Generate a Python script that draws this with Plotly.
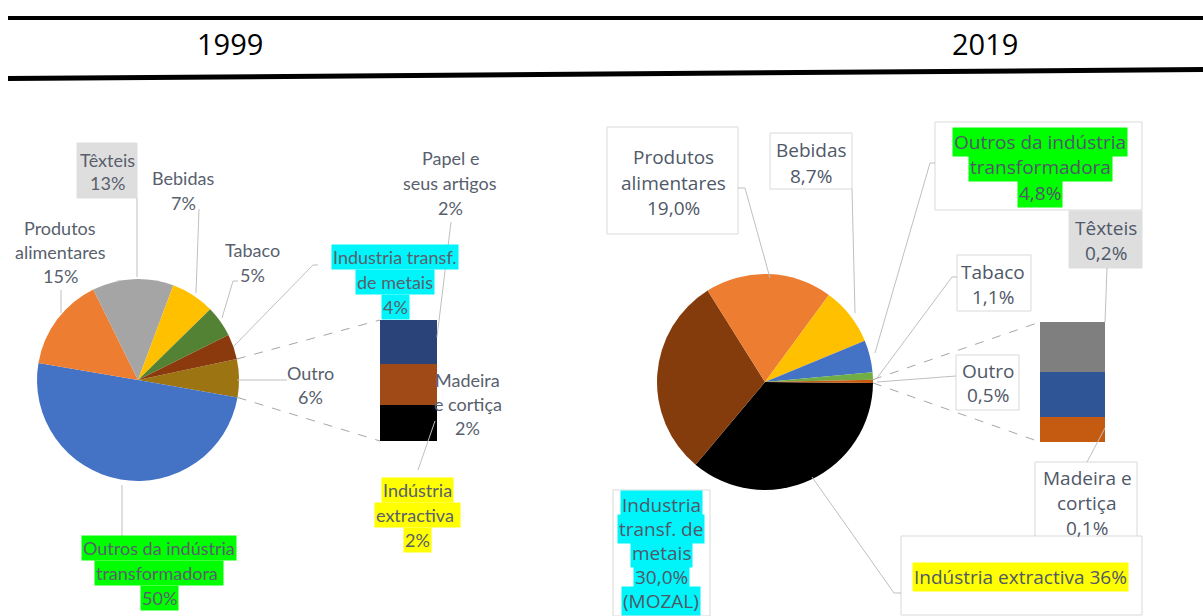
import math
import plotly.graph_objects as go

W, H = 1203, 616

# ---------------- data ----------------
# 1999 main pie (clockwise, first slice = composite "Outro")
pie99_labels = ["Outro", "Outros da indústria transformadora", "Produtos alimentares",
                "Têxteis", "Bebidas", "Tabaco", "Industria transf. de metais"]
pie99_main = [50, 15, 13, 7, 5, 4]
# 1999 bar (bottom -> top), composes the "Outro" slice
bar99_labels = ["Indústria extractiva", "Madeira e cortiça", "Papel e seus artigos"]
bar99_values = [1.8, 2.1, 2.2]
pie99_values = [sum(bar99_values)] + pie99_main

# 2019 main pie (clockwise, last slice = composite "Outro")
pie19_labels = ["Indústria extractiva", "Industria transf. de metais (MOZAL)",
                "Produtos alimentares", "Bebidas", "Outros da indústria transformadora",
                "Tabaco", "Outro"]
pie19_main = [36, 30, 19, 8.7, 4.8, 1.1]
# 2019 bar (bottom -> top), composes the "Outro" slice
bar19_labels = ["Madeira e cortiça", "Papel e seus artigos", "Têxteis"]
bar19_values = [0.1, 0.18, 0.2]
pie19_values = pie19_main + [sum(bar19_values)]

# ---------------- styles ----------------
pie99_colors = ["#9c7412", "#4472c4", "#ed7d31", "#a5a5a5", "#ffc000", "#548235", "#8a3a0c"]
bar99_colors = ["#000000", "#a04a17", "#2a4479"]
pie19_colors = ["#000000", "#843c0c", "#ed7d31", "#ffc000", "#4472c4", "#70ad47", "#c55a11"]
bar19_colors = ["#c55a11", "#2f5597", "#7f7f7f"]

PIE99 = dict(cx=138, cy=380, r=101, rot=78)
PIE19 = dict(cx=765, cy=382, r=108, rot=90.5)
BAR99 = dict(x0=380, x1=437, y0=320, y1=441)
BAR19 = dict(x0=1040, x1=1105, y0=322, y1=442)


def X(px):
    return px / W


def Y(py):
    return 1 - py / H


fig = go.Figure()

for p, labels, values, colors in [(PIE99, pie99_labels, pie99_values, pie99_colors),
                                  (PIE19, pie19_labels, pie19_values, pie19_colors)]:
    fig.add_trace(go.Pie(
        labels=labels, values=values, sort=False, direction="clockwise",
        rotation=p["rot"], textinfo="none", showlegend=False,
        marker=dict(colors=colors, line=dict(width=0)),
        domain=dict(x=[X(p["cx"] - p["r"]), X(p["cx"] + p["r"])],
                    y=[Y(p["cy"] + p["r"]), Y(p["cy"] - p["r"])]),
    ))

for k, (b, labels, values, colors) in enumerate([(BAR99, bar99_labels, bar99_values, bar99_colors),
                                                (BAR19, bar19_labels, bar19_values, bar19_colors)]):
    xa = "x" if k == 0 else "x2"
    ya = "y" if k == 0 else "y2"
    for lab, v, c in zip(labels, values, colors):
        fig.add_trace(go.Bar(x=[0], y=[v], name=lab, width=1, marker=dict(color=c, line=dict(width=0)),
                             xaxis=xa, yaxis=ya, showlegend=False))
    ax = dict(domain=[X(b["x0"]), X(b["x1"])], range=[-0.5, 0.5], visible=False, fixedrange=True)
    ay = dict(domain=[Y(b["y1"]), Y(b["y0"])], range=[0, sum(values)], visible=False, fixedrange=True)
    if k == 0:
        fig.update_layout(xaxis=ax, yaxis=ay)
    else:
        ax["anchor"] = "y2"
        ay["anchor"] = "x2"
        fig.update_layout(xaxis2=ax, yaxis2=ay)

shapes = []


def line(x0, y0, x1, y1, color="#bfbfbf", width=1, dash=None):
    d = dict(type="line", xref="paper", yref="paper", x0=X(x0), y0=Y(y0), x1=X(x1), y1=Y(y1),
             line=dict(color=color, width=width))
    if dash:
        d["line"]["dash"] = dash
    shapes.append(d)


def poly(pts, color="#bfbfbf"):
    for (a, b), (c, d) in zip(pts[:-1], pts[1:]):
        line(a, b, c, d, color=color)


def rect(x0, y0, x1, y1, fill="white", border="#d9d9d9"):
    shapes.append(dict(type="rect", xref="paper", yref="paper", x0=X(x0), y0=Y(y0), x1=X(x1), y1=Y(y1),
                       fillcolor=fill, line=dict(color=border, width=1), layer="below"))


def pie_point(p, values, frac_index):
    tot = sum(values)
    a = math.radians(p["rot"] + 360 * frac_index / tot)
    return p["cx"] + p["r"] * math.sin(a), p["cy"] - p["r"] * math.cos(a)


# header rules
line(8, 18, W, 18, color="black", width=4)
line(8, 78.5, W, 69.5, color="black", width=5)

# dashed pie-to-bar connectors (computed from data)
comp99 = pie99_values[0]
s = pie_point(PIE99, pie99_values, 0)
e = pie_point(PIE99, pie99_values, comp99)
line(s[0], s[1], BAR99["x0"], BAR99["y0"], color="#a6a6a6", dash="dash")
line(e[0], e[1], BAR99["x0"], BAR99["y1"], color="#a6a6a6", dash="dash")
comp19 = pie19_values[-1]
s = pie_point(PIE19, pie19_values, sum(pie19_values) - comp19)
e = pie_point(PIE19, pie19_values, sum(pie19_values))
line(s[0], s[1], BAR19["x0"], BAR19["y0"], color="#a6a6a6", dash="dash")
line(e[0], e[1], BAR19["x0"], BAR19["y1"], color="#a6a6a6", dash="dash")

# leader lines 1999
poly([(61, 290), (61, 313)])
poly([(137, 198), (137, 277)])
poly([(199, 209), (196, 293)])
poly([(238, 281), (233, 281), (222, 318)])
poly([(318, 265), (313, 265), (233, 347)])
poly([(451, 222), (437, 337)])
poly([(287, 380), (237, 380)])
poly([(418, 470), (435, 421)])
poly([(122, 543), (122, 485)])
# leader lines 2019
poly([(738, 188), (745, 188), (770, 278)])
poly([(852, 189), (855, 313)])
poly([(935, 163), (930, 163), (875, 353)])
poly([(1107, 268), (1105, 322)])
poly([(957, 277), (952, 277), (877, 378)])
poly([(956, 376), (877, 382)])
poly([(1087, 462), (1105, 428)])
poly([(901, 593), (894, 593), (812, 477)])

# label boxes
rect(77, 143, 137, 198, fill="#dedede", border="#dedede")
rect(607, 127, 738, 234)
rect(770, 133, 852, 189)
rect(935, 122, 1142, 210)
rect(1069, 211, 1142, 268, fill="#dedede", border="#dedede")
rect(957, 255, 1031, 311)
rect(956, 355, 1019, 410)
rect(1035, 462, 1137, 543)
rect(901, 536, 1142, 615)
rect(613, 490, 710, 616)

LEFT_FONT = dict(family="Lato, sans-serif", size=18, color="#595f6d")
RIGHT_FONT = dict(family="Open Sans, sans-serif", size=19, color="#4f5868")
CYAN, GREEN, YELLOW = "#00f5fa", "#00ff00", "#ffff00"

annotations = []


def label(rows, x, y0, dy, font, bg=None):
    for i, t in enumerate(rows):
        a = dict(text=t, x=X(x), y=Y(y0 + i * dy), xref="paper", yref="paper", showarrow=False,
                 xanchor="center", yanchor="middle", font=font, borderpad=1)
        if bg:
            a["bgcolor"] = bg
        annotations.append(a)


# 1999 labels
label(["Produtos", "alimentares", "15%"], 60, 228, 24, LEFT_FONT)
label(["Têxteis", "13%"], 107, 160, 23, LEFT_FONT)
label(["Bebidas", "7%"], 183, 178, 25, LEFT_FONT)
label(["Tabaco", "5%"], 252, 250, 25, LEFT_FONT)
label(["Industria transf.", "de metais", "4%"], 395, 257, 25, LEFT_FONT, CYAN)
label(["Papel e", "seus artigos", "2%"], 450, 158, 25, LEFT_FONT)
label(["Outro", "6%"], 310, 373, 24, LEFT_FONT)
label(["Madeira", "e cortiça", "2%"], 468, 380, 24, LEFT_FONT)
label(["Indústria", "extractiva ", "2%"], 417, 490, 25, LEFT_FONT, YELLOW)
label(["Outros da indústria", "transformadora ", "50%"], 159, 548, 25, LEFT_FONT, GREEN)

# 2019 labels
label(["Produtos", "alimentares", "19,0%"], 673, 157, 25.5, RIGHT_FONT)
label(["Bebidas", "8,7%"], 811, 150, 26, RIGHT_FONT)
label(["Outros da indústria", "transformadora", "4,8%"], 1040, 142, 25.5, RIGHT_FONT, GREEN)
label(["Têxteis", "0,2%"], 1106, 228, 25, RIGHT_FONT)
label(["Tabaco", "1,1%"], 993, 272, 25, RIGHT_FONT)
label(["Outro", "0,5%"], 988, 371, 24, RIGHT_FONT)
label(["Madeira e", "cortiça", "0,1%"], 1087, 478, 25, RIGHT_FONT)
label(["Indústria extractiva 36%"], 1021, 577, 25, RIGHT_FONT, YELLOW)
label(["Industria", "transf. de", "metais", "30,0%", "(MOZAL)"], 661, 505, 24, RIGHT_FONT, CYAN)

# year headers
TITLE_FONT = dict(family="Open Sans, sans-serif", size=29, color="black")
annotations.append(dict(text="1999", x=X(230), y=Y(44), xref="paper", yref="paper", showarrow=False,
                        xanchor="center", yanchor="middle", font=TITLE_FONT))
annotations.append(dict(text="2019", x=X(985), y=Y(44), xref="paper", yref="paper", showarrow=False,
                        xanchor="center", yanchor="middle", font=TITLE_FONT))

fig.update_layout(
    width=W, height=H, margin=dict(l=0, r=0, t=0, b=0),
    paper_bgcolor="white", plot_bgcolor="white",
    barmode="stack", bargap=0,
    shapes=shapes, annotations=annotations,
)

fig.write_html("out.html", config={"displayModeBar": False},
               post_script="document.body.style.margin='0';document.body.style.overflow='hidden';")
